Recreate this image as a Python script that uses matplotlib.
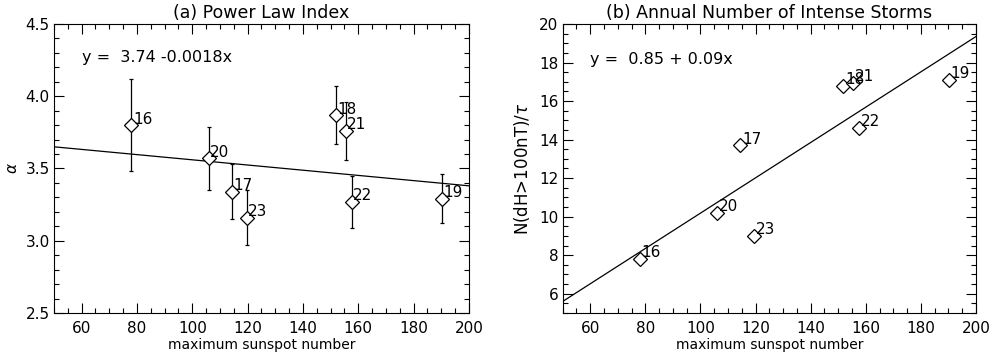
import numpy as np
import matplotlib
matplotlib.use('Agg')
import matplotlib.pyplot as plt
from matplotlib.ticker import MultipleLocator

# solar cycles 16-23
cycles = ['16', '17', '18', '19', '20', '21', '22', '23']
ssn_max = [78.0, 114.4, 151.8, 190.2, 105.9, 155.4, 157.6, 119.6]

# (a) power law index with error bars
alpha = [3.80, 3.34, 3.87, 3.29, 3.57, 3.76, 3.27, 3.16]
alpha_err = [0.32, 0.19, 0.20, 0.17, 0.22, 0.20, 0.18, 0.19]
fit_a = (3.74, -0.0018)

# (b) annual number of intense storms
storms = [7.8, 13.7, 16.8, 17.1, 10.2, 16.95, 14.6, 9.0]
fit_b_x = [50, 200]
fit_b_y = [5.6, 19.35]

plt.rcParams['font.family'] = 'DejaVu Sans'
plt.rcParams['font.size'] = 11

fig = plt.figure(figsize=(9.9, 3.6), dpi=100)
ax1 = fig.add_axes([0.0545, 0.1306, 0.4192, 0.8028])
ax2 = fig.add_axes([0.5684, 0.1306, 0.4175, 0.8028])

def style(ax, ymajor, yminor):
  ax.set_xlim(50, 200)
  ax.xaxis.set_major_locator(MultipleLocator(20))
  ax.xaxis.set_minor_locator(MultipleLocator(5))
  ax.yaxis.set_major_locator(MultipleLocator(ymajor))
  ax.yaxis.set_minor_locator(MultipleLocator(yminor))
  ax.tick_params(which='both', direction='in', top=True, right=True, width=0.8)
  ax.tick_params(which='major', length=7, labelsize=11, pad=3)
  ax.tick_params(axis='x', which='major', pad=6)
  ax.tick_params(which='minor', length=3.5)
  for s in ax.spines.values():
    s.set_linewidth(0.8)
  ax.set_xlabel('maximum sunspot number', fontsize=10, labelpad=1)

# panel a
xx = np.array([50, 200])
ax1.plot(xx, fit_a[0] + fit_a[1] * xx, color='black', lw=0.9)
ax1.errorbar(ssn_max, alpha, yerr=alpha_err, fmt='D', mfc='white', mec='black',
             ms=7.5, mew=0.9, ecolor='black', elinewidth=0.9, capsize=1.5, capthick=0.9)
for x, y, c in zip(ssn_max, alpha, cycles):
  ax1.text(x + 0.6, y + 0.01, c, fontsize=11, ha='left', va='baseline')
ax1.set_ylim(2.5, 4.5)
style(ax1, 0.5, 0.1)
ax1.set_ylabel(r'$\alpha$', fontsize=11)
ax1.text(60, 4.24, 'y =  3.74 -0.0018x', fontsize=11.5, ha='left', va='baseline')
ax1.set_title('(a) Power Law Index', fontsize=12.5, pad=4)

# panel b
ax2.plot(fit_b_x, fit_b_y, color='black', lw=0.9)
ax2.plot(ssn_max, storms, 'D', mfc='white', mec='black', ms=7.5, mew=0.9)
for x, y, c in zip(ssn_max, storms, cycles):
  ax2.text(x + 0.6, y + 0.08, c, fontsize=11, ha='left', va='baseline')
ax2.set_ylim(5, 20)
style(ax2, 2, 0.5)
ax2.set_ylabel(r'N(dH>100nT)/$\tau$', fontsize=12, labelpad=5)
ax2.text(60, 17.9, 'y =  0.85 + 0.09x', fontsize=11.5, ha='left', va='baseline')
ax2.set_title('(b) Annual Number of Intense Storms', fontsize=12.5, pad=4)

fig.savefig('out.png', dpi=100)
